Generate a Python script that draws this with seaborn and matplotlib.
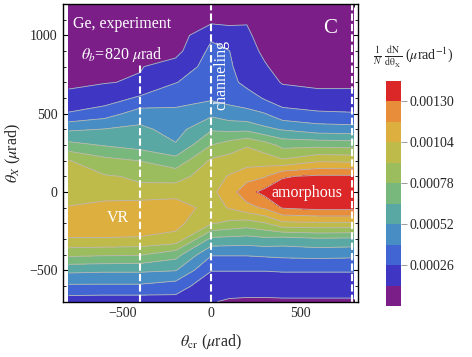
import numpy as np
import matplotlib
matplotlib.use("Agg")
import matplotlib.pyplot as plt
import seaborn as sns
from matplotlib.ticker import MultipleLocator, FormatStrFormatter

# crystal angle columns (urad) and deflection angle rows (urad)
theta_cr = [-800, -600, -400, -200, 0, 100, 200, 300, 400, 600, 800]
theta_x = [-700, -600, -500, -400, -300, -200, -100, 0, 100, 200,
           300, 400, 500, 600, 700, 800, 900, 1000, 1100, 1200]

# 1/N dN/dtheta_x for each theta_cr column, in units of 1e-5 / urad (bottom -> top)
dens_m800 = [19, 37, 55, 81, 103.4, 110, 104.5, 100, 97, 91.5, 69, 50, 27, 17, 10, 8, 6, 5, 4, 4]
dens_m600 = [18, 37, 54, 79.7, 103.2, 112, 110, 96, 92, 82, 64, 52.5, 33, 19, 12.5, 10, 8, 6, 5, 4]
dens_m400 = [18, 37, 54, 79, 102.4, 113, 114, 93, 89.7, 77.7, 59.6, 55, 45, 28, 14, 12.4, 8, 6, 5, 4]
dens_m200 = [20.5, 32.7, 52.5, 70, 100, 108, 112, 98, 86, 70, 53, 47, 41, 36, 25.5, 18, 9, 6, 5, 4]
dens_0 = [13.5, 17, 26.5, 40, 62, 92, 98, 101, 98, 93, 78, 63.6, 49, 37, 34, 31, 29, 24, 9, 4]
dens_100 = [12, 17, 26.5, 40, 61, 88, 105, 111, 105, 96, 84, 62, 44, 35, 31, 28, 26.3, 18, 10, 4]
dens_200 = [11.5, 17, 26.5, 40, 60, 85, 113, 125, 112, 98, 90, 62, 42, 33, 21.5, 19, 17, 15, 12, 6]
dens_300 = [11.5, 17, 26.5, 41, 62, 90, 119, 134, 116, 97.5, 84, 55, 39.5, 24.5, 19, 14, 11, 8, 6, 5]
dens_400 = [11.5, 18, 27, 42, 60, 101, 131, 136, 129, 93, 74, 51, 30, 20, 12, 9, 8, 7, 5, 4]
dens_600 = [11.5, 18, 27, 43, 63, 102, 134, 142, 132, 102, 74, 45, 28, 16, 11, 9, 8, 6, 5, 4]
dens_800 = [11.5, 18, 27, 42, 62, 102, 134, 142.5, 132, 101, 73, 44, 27, 16, 11, 9, 8, 6, 5, 4]

level_edges = [0, 13, 26, 39, 52, 65, 78, 91, 104, 117, 130, 143]
cbar_ticks = [0.00026, 0.00052, 0.00078, 0.00104, 0.00130]
band_colors = ["#7b1e88", "#3f37c3", "#4166d3", "#488dc4", "#5aa8a3", "#78b87d",
               "#9cbd5d", "#bfbb4b", "#dcaf3f", "#e88e3a", "#db2727"]

sns.set_theme(style="ticks")
plt.rcParams["font.family"] = ["Liberation Serif", "DejaVu Serif"]
plt.rcParams["mathtext.fontset"] = "stix"

Z = np.column_stack([dens_m800, dens_m600, dens_m400, dens_m200, dens_0, dens_100,
                     dens_200, dens_300, dens_400, dens_600, dens_800]) * 1e-5
levels = np.array(level_edges) * 1e-5

fig = plt.figure(figsize=(4.72, 3.57), dpi=100)
ax = fig.add_axes([63 / 472, 1 - 301.7 / 357, 295 / 472, 297.7 / 357])

cf = ax.contourf(theta_cr, theta_x, Z, levels=levels, colors=band_colors)
ax.contour(theta_cr, theta_x, Z, levels=levels[1:-1], colors="#b8b8b8", linewidths=0.6)

# white dashed markers
dash = (0, (3.5, 1.5))
ax.axvline(-400, ymax=(820 + 700) / 1900, color="white", lw=1.5, ls=dash)
ax.axvline(0, color="white", lw=1.5, ls=dash)
ax.axvline(790, color="white", lw=1.5, ls=dash)

ax.set_xlim(-833, 824)
ax.set_ylim(-700, 1200)
ax.xaxis.set_major_locator(MultipleLocator(500))
ax.xaxis.set_minor_locator(MultipleLocator(100))
ax.yaxis.set_major_locator(MultipleLocator(500))
ax.yaxis.set_minor_locator(MultipleLocator(100))
ax.tick_params(which="both", direction="in", top=True, right=True, labelsize=10,
               color="black", pad=4)
ax.tick_params(which="major", length=4, width=0.8)
ax.tick_params(which="minor", length=2, width=0.6)
for s in ax.spines.values():
    s.set_linewidth(1.0)
    s.set_color("black")

ax.set_xlabel(r"$\theta_{\rm cr}$ ($\mu$rad)", fontsize=11.5, labelpad=9)
ax.set_ylabel(r"$\theta_X$ ($\mu$rad)", fontsize=11.5, labelpad=4)

ax.text(0.034, 0.933, "Ge, experiment", transform=ax.transAxes, color="white",
        fontsize=11.5, ha="left", va="center")
ax.text(0.061, 0.832, r"$\theta_b$=820 $\mu$rad", transform=ax.transAxes, color="white",
        fontsize=11.5, ha="left", va="center")
ax.text(0.905, 0.919, "C", transform=ax.transAxes, color="white", fontsize=15,
        ha="center", va="center")
ax.text(0.537, 0.761, "channeling", transform=ax.transAxes, color="white", fontsize=11.5,
        rotation=90, ha="center", va="center")
ax.text(0.186, 0.281, "VR", transform=ax.transAxes, color="white", fontsize=11.5,
        ha="center", va="center")
ax.text(0.827, 0.365, "amorphous", transform=ax.transAxes, color="white", fontsize=11.5,
        ha="center", va="center")

cax = fig.add_axes([386 / 472, 1 - 306 / 357, 15 / 472, 225 / 357])
cbar = fig.colorbar(cf, cax=cax, ticks=cbar_ticks)
cbar.outline.set_visible(False)
cbar.ax.yaxis.set_major_formatter(FormatStrFormatter("%.5f"))
cbar.ax.tick_params(direction="out", length=4, width=0.7, color="#9a9a9a",
                    labelsize=10, pad=2)
cbar.ax.minorticks_off()

fig.text(373 / 472, 1 - 57 / 357,
         r"$\frac{1}{N}\ \frac{\rm dN}{{\rm d}\theta_X}$ ($\mu$rad$^{-1}$)",
         fontsize=10, ha="left", va="center")

fig.savefig("out.png", dpi=100)
